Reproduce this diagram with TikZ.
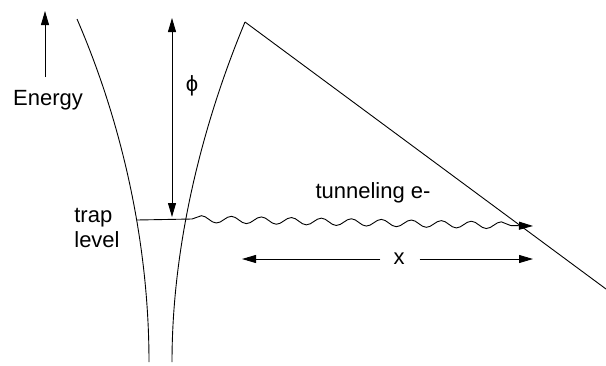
\documentclass[tikz,border=0pt]{standalone}
\usepackage{fontspec}
\setmainfont{Liberation Sans}
\usetikzlibrary{arrows.meta,decorations.pathmorphing}
\begin{document}
\begin{tikzpicture}[x=1pt,y=-1pt,
  lbl/.style={font=\fontsize{22}{25}\selectfont, inner sep=0pt},
  ln/.style={line width=0.9pt},
  tip/.style={-{Triangle[length=14pt,width=8pt]}},
  tips/.style={{Triangle[length=14pt,width=8pt]}-{Triangle[length=14pt,width=8pt]}}]
\useasboundingbox (0,0) rectangle (606,365);
% coordinates
\coordinate (lt) at (77,19);
\coordinate (lb) at (149,362);
\coordinate (rt) at (245,22);
\coordinate (rb) at (172,362);
\coordinate (de) at (606,289);
\coordinate (tl) at (137,220);
\coordinate (tr) at (192,219);
\coordinate (we) at (533,226);
\coordinate (eb) at (45,77);
\coordinate (et) at (45,11);
\coordinate (pt) at (172,18);
\coordinate (pb) at (172,217);
\coordinate (xl) at (242,259);
\coordinate (xr) at (533,259);
% walls
\draw[ln] (lt) .. controls (125,130) and (149,250) .. (lb);
\draw[ln] (rt) .. controls (200,130) and (172,250) .. (rb);
\draw[ln] (rt) -- (de);
% trap level
\draw[ln] (tl) -- (tr);
\draw[ln, tip, decorate, decoration={snake, segment length=30pt, amplitude=3.5pt, post length=14pt}] (tr) -- (we);
% labels
\node[lbl] (energy) at (48,100) {Energy};
\draw[ln, tip] (eb) -- (et);
\draw[ln, tips] (pt) -- (pb);
\node[lbl] (phi) at (192,86) {ϕ};
\node[lbl] (tun) at (373,193) {tunneling e-};
\node[lbl, align=left] (trap) at (97,228) {trap\\level};
\node[lbl] (xlab) at (399,259) {x};
\draw[ln, tip] (xlab.west) ++(-13,0) -- (xl);
\draw[ln, tip] (xlab.east) ++(15,0) -- (xr);
\end{tikzpicture}
\end{document}
